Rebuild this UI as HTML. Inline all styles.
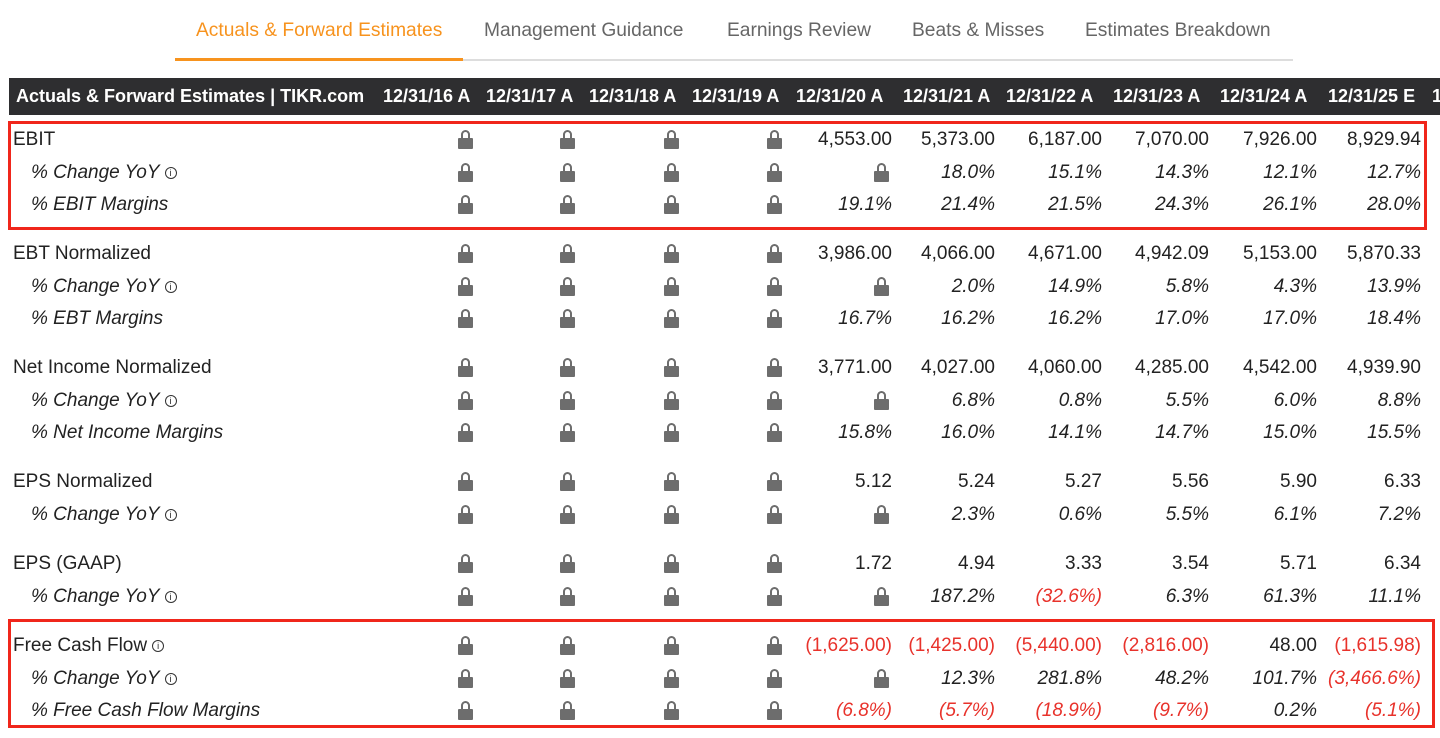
<!DOCTYPE html>
<html><head><meta charset="utf-8"><style>
body{margin:0;width:1440px;height:738px;background:#fff;position:relative;overflow:hidden;font-family:"Liberation Sans",sans-serif;color:#222}
.t{position:absolute;top:20px;font-size:19.2px;color:#666;white-space:nowrap}
.hb{position:absolute;left:9px;top:78px;width:1431px;height:37px;background:#2e2e30}
.h{position:absolute;top:86px;color:#fff;font-weight:bold;font-size:18px;white-space:nowrap}
.r{position:absolute;height:24px;left:0;width:1440px}
.l{position:absolute;left:13px;top:2px;font-size:19px;white-space:nowrap}
.l.i{left:31px;font-style:italic}
.v{position:absolute;width:150px;text-align:right;font-size:19px;top:2px;white-space:nowrap}
.i2{font-style:italic}
.neg{color:#e8322b}
.k{position:absolute;top:3px;width:14px;height:18px}
.k:before{content:"";position:absolute;left:3px;top:0;width:5px;height:7px;border:2px solid #6d6d6d;border-bottom:none;border-radius:5px 5px 0 0}
.k:after{content:"";position:absolute;left:0;top:8px;width:15px;height:11px;background:#6d6d6d;border-radius:1px}
.box{position:absolute;border:3px solid #f0261b}
.info{display:inline-block;width:10px;height:10px;border:1.3px solid #333;border-radius:50%;font-size:9px;line-height:10px;text-align:center;font-style:normal;vertical-align:2px;margin-left:5px}
</style></head><body>
<div class="t" style="left:196px;color:#f7931e">Actuals &amp; Forward Estimates</div>
<div class="t" style="left:484px">Management Guidance</div>
<div class="t" style="left:727px">Earnings Review</div>
<div class="t" style="left:912px">Beats &amp; Misses</div>
<div class="t" style="left:1085px">Estimates Breakdown</div>
<div style="position:absolute;left:175px;top:59px;width:1118px;height:2px;background:#ddd"></div>
<div style="position:absolute;left:175px;top:58px;width:288px;height:3px;background:#f7931e"></div>
<div class="hb"></div>
<div class="h" style="left:16px">Actuals &amp; Forward Estimates | TIKR.com</div>
<div class="h" style="left:383px">12/31/16 A</div>
<div class="h" style="left:486px">12/31/17 A</div>
<div class="h" style="left:589px">12/31/18 A</div>
<div class="h" style="left:692px">12/31/19 A</div>
<div class="h" style="left:796px">12/31/20 A</div>
<div class="h" style="left:903px">12/31/21 A</div>
<div class="h" style="left:1006px">12/31/22 A</div>
<div class="h" style="left:1113px">12/31/23 A</div>
<div class="h" style="left:1220px">12/31/24 A</div>
<div class="h" style="left:1328px">12/31/25 E</div>
<div class="h" style="left:1432px">1</div>

<div class="box" style="left:8px;top:121px;width:1413px;height:103px"></div>
<div class="box" style="left:8px;top:619px;width:1421px;height:103px"></div>

<div class="r" style="top:127px"><span class="l">EBIT</span><i class="k" style="left:458px"></i><i class="k" style="left:560px"></i><i class="k" style="left:664px"></i><i class="k" style="left:767px"></i><span class="v" style="left:742px">4,553.00</span><span class="v" style="left:845px">5,373.00</span><span class="v" style="left:952px">6,187.00</span><span class="v" style="left:1059px">7,070.00</span><span class="v" style="left:1167px">7,926.00</span><span class="v" style="left:1271px">8,929.94</span></div>
<div class="r" style="top:160px"><span class="l i">% Change YoY<span class="info">i</span></span><i class="k" style="left:458px"></i><i class="k" style="left:560px"></i><i class="k" style="left:664px"></i><i class="k" style="left:767px"></i><i class="k" style="left:874px"></i><span class="v i2" style="left:845px">18.0%</span><span class="v i2" style="left:952px">15.1%</span><span class="v i2" style="left:1059px">14.3%</span><span class="v i2" style="left:1167px">12.1%</span><span class="v i2" style="left:1271px">12.7%</span></div>
<div class="r" style="top:192px"><span class="l i">% EBIT Margins</span><i class="k" style="left:458px"></i><i class="k" style="left:560px"></i><i class="k" style="left:664px"></i><i class="k" style="left:767px"></i><span class="v i2" style="left:742px">19.1%</span><span class="v i2" style="left:845px">21.4%</span><span class="v i2" style="left:952px">21.5%</span><span class="v i2" style="left:1059px">24.3%</span><span class="v i2" style="left:1167px">26.1%</span><span class="v i2" style="left:1271px">28.0%</span></div>

<div class="r" style="top:241px"><span class="l">EBT Normalized</span><i class="k" style="left:458px"></i><i class="k" style="left:560px"></i><i class="k" style="left:664px"></i><i class="k" style="left:767px"></i><span class="v" style="left:742px">3,986.00</span><span class="v" style="left:845px">4,066.00</span><span class="v" style="left:952px">4,671.00</span><span class="v" style="left:1059px">4,942.09</span><span class="v" style="left:1167px">5,153.00</span><span class="v" style="left:1271px">5,870.33</span></div>
<div class="r" style="top:274px"><span class="l i">% Change YoY<span class="info">i</span></span><i class="k" style="left:458px"></i><i class="k" style="left:560px"></i><i class="k" style="left:664px"></i><i class="k" style="left:767px"></i><i class="k" style="left:874px"></i><span class="v i2" style="left:845px">2.0%</span><span class="v i2" style="left:952px">14.9%</span><span class="v i2" style="left:1059px">5.8%</span><span class="v i2" style="left:1167px">4.3%</span><span class="v i2" style="left:1271px">13.9%</span></div>
<div class="r" style="top:306px"><span class="l i">% EBT Margins</span><i class="k" style="left:458px"></i><i class="k" style="left:560px"></i><i class="k" style="left:664px"></i><i class="k" style="left:767px"></i><span class="v i2" style="left:742px">16.7%</span><span class="v i2" style="left:845px">16.2%</span><span class="v i2" style="left:952px">16.2%</span><span class="v i2" style="left:1059px">17.0%</span><span class="v i2" style="left:1167px">17.0%</span><span class="v i2" style="left:1271px">18.4%</span></div>

<div class="r" style="top:355px"><span class="l">Net Income Normalized</span><i class="k" style="left:458px"></i><i class="k" style="left:560px"></i><i class="k" style="left:664px"></i><i class="k" style="left:767px"></i><span class="v" style="left:742px">3,771.00</span><span class="v" style="left:845px">4,027.00</span><span class="v" style="left:952px">4,060.00</span><span class="v" style="left:1059px">4,285.00</span><span class="v" style="left:1167px">4,542.00</span><span class="v" style="left:1271px">4,939.90</span></div>
<div class="r" style="top:388px"><span class="l i">% Change YoY<span class="info">i</span></span><i class="k" style="left:458px"></i><i class="k" style="left:560px"></i><i class="k" style="left:664px"></i><i class="k" style="left:767px"></i><i class="k" style="left:874px"></i><span class="v i2" style="left:845px">6.8%</span><span class="v i2" style="left:952px">0.8%</span><span class="v i2" style="left:1059px">5.5%</span><span class="v i2" style="left:1167px">6.0%</span><span class="v i2" style="left:1271px">8.8%</span></div>
<div class="r" style="top:420px"><span class="l i">% Net Income Margins</span><i class="k" style="left:458px"></i><i class="k" style="left:560px"></i><i class="k" style="left:664px"></i><i class="k" style="left:767px"></i><span class="v i2" style="left:742px">15.8%</span><span class="v i2" style="left:845px">16.0%</span><span class="v i2" style="left:952px">14.1%</span><span class="v i2" style="left:1059px">14.7%</span><span class="v i2" style="left:1167px">15.0%</span><span class="v i2" style="left:1271px">15.5%</span></div>

<div class="r" style="top:469px"><span class="l">EPS Normalized</span><i class="k" style="left:458px"></i><i class="k" style="left:560px"></i><i class="k" style="left:664px"></i><i class="k" style="left:767px"></i><span class="v" style="left:742px">5.12</span><span class="v" style="left:845px">5.24</span><span class="v" style="left:952px">5.27</span><span class="v" style="left:1059px">5.56</span><span class="v" style="left:1167px">5.90</span><span class="v" style="left:1271px">6.33</span></div>
<div class="r" style="top:502px"><span class="l i">% Change YoY<span class="info">i</span></span><i class="k" style="left:458px"></i><i class="k" style="left:560px"></i><i class="k" style="left:664px"></i><i class="k" style="left:767px"></i><i class="k" style="left:874px"></i><span class="v i2" style="left:845px">2.3%</span><span class="v i2" style="left:952px">0.6%</span><span class="v i2" style="left:1059px">5.5%</span><span class="v i2" style="left:1167px">6.1%</span><span class="v i2" style="left:1271px">7.2%</span></div>

<div class="r" style="top:551px"><span class="l">EPS (GAAP)</span><i class="k" style="left:458px"></i><i class="k" style="left:560px"></i><i class="k" style="left:664px"></i><i class="k" style="left:767px"></i><span class="v" style="left:742px">1.72</span><span class="v" style="left:845px">4.94</span><span class="v" style="left:952px">3.33</span><span class="v" style="left:1059px">3.54</span><span class="v" style="left:1167px">5.71</span><span class="v" style="left:1271px">6.34</span></div>
<div class="r" style="top:584px"><span class="l i">% Change YoY<span class="info">i</span></span><i class="k" style="left:458px"></i><i class="k" style="left:560px"></i><i class="k" style="left:664px"></i><i class="k" style="left:767px"></i><i class="k" style="left:874px"></i><span class="v i2" style="left:845px">187.2%</span><span class="v i2 neg" style="left:952px">(32.6%)</span><span class="v i2" style="left:1059px">6.3%</span><span class="v i2" style="left:1167px">61.3%</span><span class="v i2" style="left:1271px">11.1%</span></div>

<div class="r" style="top:633px"><span class="l">Free Cash Flow<span class="info">i</span></span><i class="k" style="left:458px"></i><i class="k" style="left:560px"></i><i class="k" style="left:664px"></i><i class="k" style="left:767px"></i><span class="v neg" style="left:742px">(1,625.00)</span><span class="v neg" style="left:845px">(1,425.00)</span><span class="v neg" style="left:952px">(5,440.00)</span><span class="v neg" style="left:1059px">(2,816.00)</span><span class="v" style="left:1167px">48.00</span><span class="v neg" style="left:1271px">(1,615.98)</span></div>
<div class="r" style="top:666px"><span class="l i">% Change YoY<span class="info">i</span></span><i class="k" style="left:458px"></i><i class="k" style="left:560px"></i><i class="k" style="left:664px"></i><i class="k" style="left:767px"></i><i class="k" style="left:874px"></i><span class="v i2" style="left:845px">12.3%</span><span class="v i2" style="left:952px">281.8%</span><span class="v i2" style="left:1059px">48.2%</span><span class="v i2" style="left:1167px">101.7%</span><span class="v i2 neg" style="left:1271px">(3,466.6%)</span></div>
<div class="r" style="top:698px"><span class="l i">% Free Cash Flow Margins</span><i class="k" style="left:458px"></i><i class="k" style="left:560px"></i><i class="k" style="left:664px"></i><i class="k" style="left:767px"></i><span class="v i2 neg" style="left:742px">(6.8%)</span><span class="v i2 neg" style="left:845px">(5.7%)</span><span class="v i2 neg" style="left:952px">(18.9%)</span><span class="v i2 neg" style="left:1059px">(9.7%)</span><span class="v i2" style="left:1167px">0.2%</span><span class="v i2 neg" style="left:1271px">(5.1%)</span></div>
</body></html>
